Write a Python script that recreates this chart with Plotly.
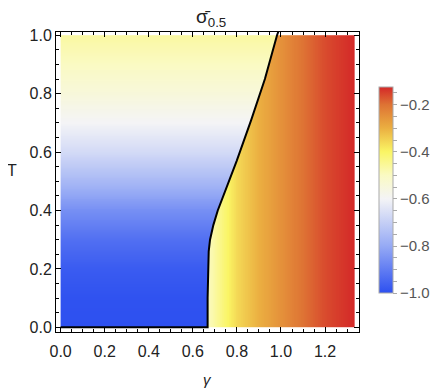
import numpy as np
import plotly.graph_objects as go

# values
# left phase: sigma depends on T only
T_pts = [0.0, 0.1, 0.2, 0.3, 0.4, 0.5, 0.6, 0.7, 0.8, 0.9, 1.0]
left_vals = [-1.0, -0.995, -0.975, -0.93, -0.86, -0.76, -0.67, -0.60, -0.545, -0.50, -0.465]

# right phase: sigma depends on gamma only
g_pts = [0.667, 0.75, 0.8, 0.9, 1.0, 1.1, 1.2, 1.333]
right_vals = [-0.50, -0.41, -0.36, -0.30, -0.25, -0.20, -0.16, -0.125]

# phase boundary (black curve)
bnd_T = [0.0, 0.10, 0.20, 0.26, 0.30, 0.35, 0.40, 0.45, 0.57, 0.71, 0.85, 1.0, 1.012]
bnd_g = [0.667, 0.667, 0.668, 0.672, 0.678, 0.693, 0.713, 0.738, 0.799, 0.865, 0.927, 0.982, 0.988]

cbar_major = [-1.0, -0.8, -0.6, -0.4, -0.2]
cbar_minor = [-0.95, -0.9, -0.85, -0.75, -0.7, -0.65, -0.55, -0.5, -0.45, -0.35, -0.3, -0.25, -0.15]

cscale = [
    [0.0, 'rgb(45,80,240)'],
    [0.2286, 'rgb(150,170,245)'],
    [0.4571, 'rgb(244,244,246)'],
    [0.5714, 'rgb(250,250,195)'],
    [0.6857, 'rgb(250,245,100)'],
    [0.80, 'rgb(235,175,65)'],
    [0.9143, 'rgb(222,115,52)'],
    [1.0, 'rgb(212,40,40)'],
]

nx, ny = 420, 320
gmax = 4 / 3
gx = (np.arange(nx) + 0.5) * gmax / nx
ty = (np.arange(ny) + 0.5) / ny
G, TT = np.meshgrid(gx, ty)
left = np.interp(TT, T_pts, left_vals)
right = np.interp(G, g_pts, right_vals)
edge = np.interp(TT, bnd_T, bnd_g)
z = np.where(G < edge, left, right)

cb_vals = cbar_major + cbar_minor
cb_text = ['\u2212%.1f' % abs(v) for v in cbar_major] + [''] * len(cbar_minor)

fig = go.Figure()
fig.add_trace(go.Heatmap(
    x=gx, y=ty, z=z, colorscale=cscale, zmin=-1.0, zmax=-0.125,
    colorbar=dict(x=1.066, xanchor='left', xpad=0, ypad=0, y=0.473, yanchor='middle',
                  len=0.687, thickness=14, outlinecolor='#aaaaaa', outlinewidth=1,
                  tickvals=cb_vals, ticktext=cb_text,
                  ticks='outside', ticklen=4, tickcolor='#aaaaaa',
                  tickfont=dict(family='Liberation Sans', size=15, color='#555555'))
))
# contour line: bottom edge of the left phase plus the boundary
fig.add_trace(go.Scatter(x=[0.0] + bnd_g, y=[0.0] + bnd_T, mode='lines',
                         line=dict(color='black', width=2), showlegend=False,
                         hoverinfo='skip', cliponaxis=False))

axfont = dict(family='Liberation Sans', size=16, color='#222222')
fig.update_xaxes(range=[-0.021, 1.354], showline=True, linecolor='black', linewidth=1,
                 mirror='ticks', ticks='inside', ticklen=5, tickcolor='black',
                 ticklabelstandoff=5,
                 dtick=0.2, tickformat='.1f', tickfont=axfont, showgrid=False, zeroline=False,
                 minor=dict(ticks='inside', ticklen=3, dtick=0.05, tickcolor='black'))
fig.update_yaxes(range=[-0.016, 1.011], showline=True, linecolor='black', linewidth=1,
                 mirror='ticks', ticks='inside', ticklen=5, tickcolor='black',
                 dtick=0.2, tickformat='.1f', tickfont=axfont, showgrid=False, zeroline=False,
                 minor=dict(ticks='inside', ticklen=3, dtick=0.05, tickcolor='black'))

# the page body adds an 8px margin, so the figure is sized and placed to fit the window
fig.update_layout(
    width=439, height=382,
    margin=dict(l=48, r=88, t=24, b=58),
    plot_bgcolor='white', paper_bgcolor='white',
    annotations=[
        dict(text='σ\u0304<sub>0.5</sub>', x=0.51, y=1.0, xref='paper', yref='paper',
             yanchor='middle', yshift=14, showarrow=False,
             font=dict(family='Liberation Sans', size=19, color='#222222')),
        dict(text='T', x=0, y=0.537, xref='paper', yref='paper', xanchor='right',
             xshift=-37, showarrow=False,
             font=dict(family='Liberation Sans', size=16, color='#222222')),
        dict(text='<i>γ</i>', x=0.5, y=0, xref='paper', yref='paper', yanchor='middle',
             yshift=-47, showarrow=False,
             font=dict(family='Liberation Sans', size=15, color='#222222')),
    ],
)

fig.write_html('out.html')
